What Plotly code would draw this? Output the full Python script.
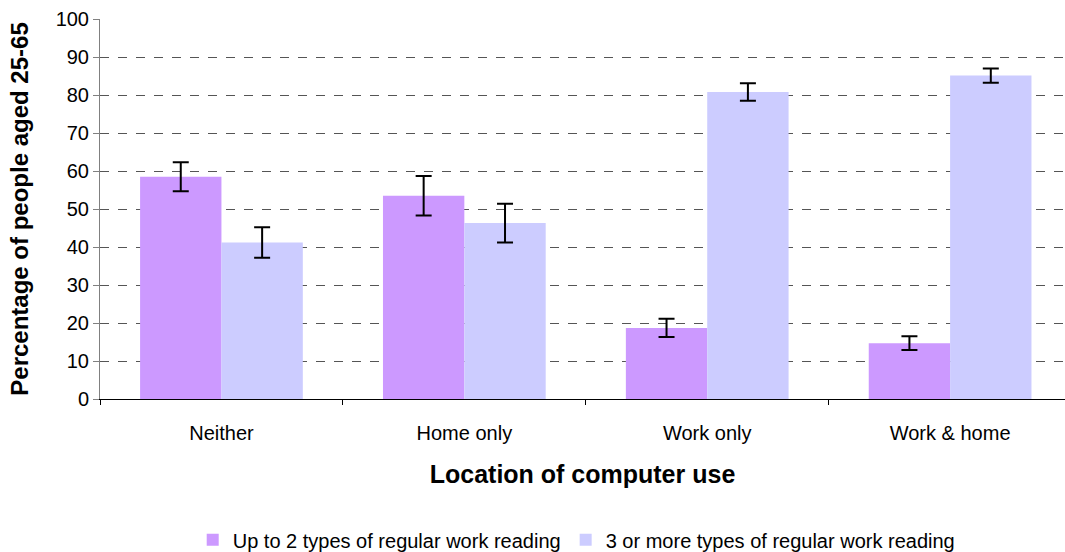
import plotly.graph_objects as go

categories = ["Neither", "Home only", "Work only", "Work &amp; home"]
series_names = ["Up to 2 types of regular work reading",
                "3 or more types of regular work reading"]
up_to_2 = [58.5, 53.5, 18.7, 14.7]
up_to_2_err = [3.8, 5.2, 2.4, 1.8]
three_plus = [41.2, 46.3, 80.8, 85.1]
three_plus_err = [4.0, 5.1, 2.3, 1.9]
y_ticks = [0, 10, 20, 30, 40, 50, 60, 70, 80, 90, 100]

font_family = "Liberation Sans, Arial, sans-serif"

fig = go.Figure()
for name, vals, errs, color in [
    (series_names[0], up_to_2, up_to_2_err, "#CC99FF"),
    (series_names[1], three_plus, three_plus_err, "#CCCCFF"),
]:
    fig.add_trace(go.Bar(
        name=name, x=categories, y=vals, marker_color=color,
        marker_line_width=0,
        error_y=dict(type="data", array=errs, visible=True,
                     color="black", thickness=2, width=8),
    ))

fig.update_layout(
    width=1065, height=552,
    margin=dict(l=100, r=0, t=19, b=153, autoexpand=False),
    paper_bgcolor="white", plot_bgcolor="white",
    barmode="group", bargap=0.33, bargroupgap=0,
    font=dict(family=font_family, size=20, color="black"),
    showlegend=True,
    legend=dict(orientation="h", x=0.494, xanchor="center",
                yref="container", y=0.022, yanchor="middle",
                font=dict(size=20), itemwidth=30,
                traceorder="normal"),
)
fig.update_xaxes(
    range=[-0.5, 3.473], showgrid=False, automargin=False,
    showline=True, linecolor="black", linewidth=1,
    ticks="outside", tickson="boundaries", ticklen=5, tickcolor="black",
    tickfont=dict(size=20), ticklabelstandoff=16,
    title=dict(text="Location of computer use",
               font=dict(size=25, family=font_family, weight="bold"),
               standoff=22),
)
fig.update_yaxes(
    range=[0, 100], tickvals=y_ticks, automargin=False,
    showgrid=True, gridcolor="#555555", griddash="dash", gridwidth=1,
    showline=True, linecolor="#808080", linewidth=1,
    ticks="outside", ticklen=6, tickcolor="#808080",
    tickfont=dict(size=20),
    zeroline=False,
    title=dict(text="Percentage of people aged 25-65",
               font=dict(size=24, family=font_family, weight="bold"),
               standoff=20),
)

fig.write_html("out.html")
